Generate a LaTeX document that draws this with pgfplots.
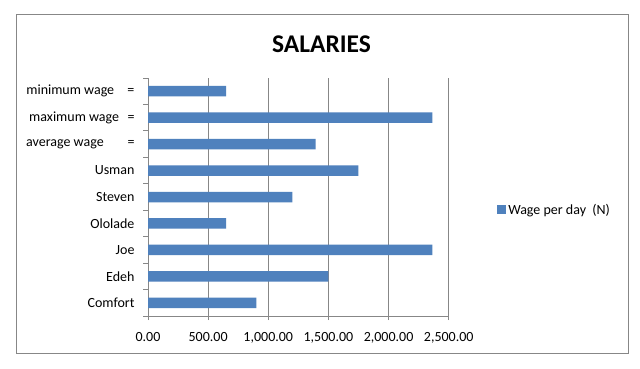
\documentclass[border=0pt]{standalone}
\usepackage{pgfplots}
\pgfplotsset{compat=1.18}
\usepackage{fontspec}
\setmainfont{Carlito}
\definecolor{barblue}{HTML}{4F81BD}
\definecolor{gridgray}{HTML}{878787}
\begin{document}
\begin{tikzpicture}
\useasboundingbox (0,0) rectangle (640bp,369bp);
\fill[white] (0,0) rectangle (640bp,369bp);
\draw[gridgray, line width=1bp] (16bp,15bp) rectangle (628bp,354bp);
\node[font=\fontsize{25.5bp}{30bp}\selectfont\bfseries] at (321.5bp,325bp) {SALARIES};
\begin{axis}[
  at={(148bp,53bp)}, anchor=south west,
  scale only axis, width=300.7bp, height=238bp,
  xbar, bar width=10.5bp, bar shift=0pt,
  xmin=0, xmax=2500,
  ymin=-0.5, ymax=8.5,
  xtick={0,500,...,2500},
  ytick={0,...,8},
  yticklabels={Comfort,Edeh,Joe,Ololade,Steven,Usman,{average wage\hspace{1.7em}=},{maximum wage\hspace{0.6em}=},{minimum wage\hspace{0.95em}=}},
  minor ytick={-0.5,0.5,...,8.5},
  major y tick style={draw=none},
  minor tick length=5bp,
  major tick length=4bp,
  tick align=outside,
  tick style={gridgray, line width=0.8bp},
  axis x line*=bottom, axis y line*=left,
  axis line style={gridgray, line width=0.8bp, -},
  xmajorgrids, major x grid style={gridgray, line width=0.8bp},
  /pgf/number format/assume math mode=true,
  /pgf/number format/fixed, /pgf/number format/fixed zerofill,
  /pgf/number format/precision=2, /pgf/number format/1000 sep={,},
  scaled x ticks=false,
  tick label style={font=\fontsize{14bp}{16bp}\selectfont, text=black},
  xticklabel style={yshift=-9bp},
  yticklabel style={xshift=-6bp},
  legend style={at={(1.161,0.445)}, anchor=west, draw=none, fill=none,
    font=\fontsize{14bp}{16bp}\selectfont, inner sep=0pt},
  legend image code/.code={\fill[barblue] (0bp,-4bp) rectangle (9bp,5bp);},
  legend cell align=left,
]
\addplot[fill=barblue, draw=none] coordinates {
  (900,0) (1500,1) (2365,2) (650,3) (1200,4) (1750,5) (1393,6) (2365,7) (650,8)};
\addlegendentry{Wage per day\ \ (N)}
\end{axis}
\end{tikzpicture}
\end{document}
